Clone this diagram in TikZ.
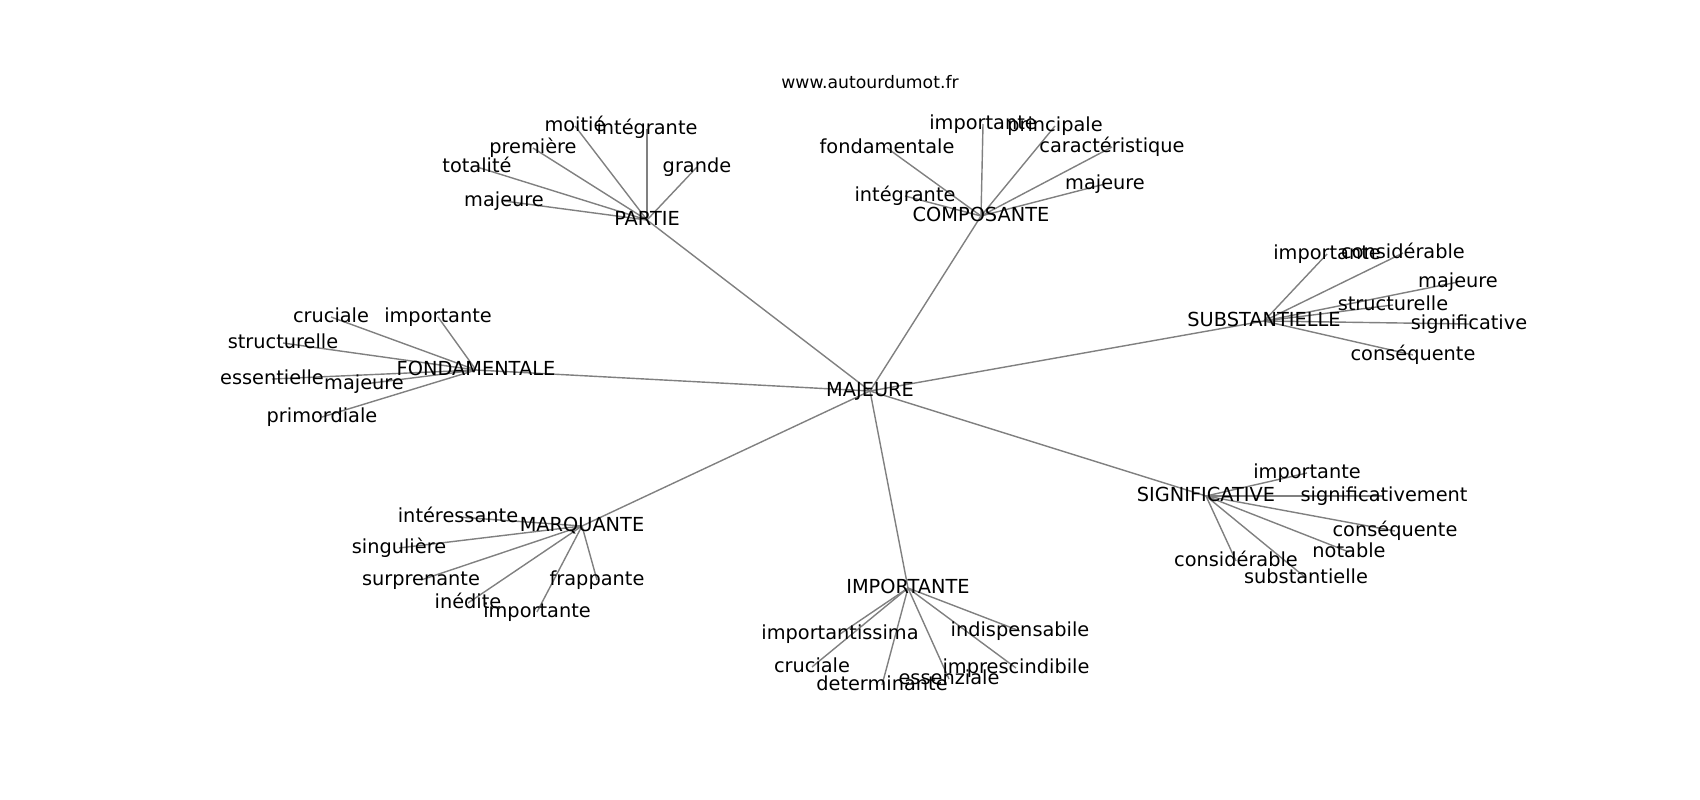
\documentclass[tikz,border=0pt]{standalone}
\usepackage{fontspec}
\setmainfont{DejaVu Sans}
\usetikzlibrary{backgrounds}

\begin{document}
\begin{tikzpicture}[x=0.01cm, y=-0.01cm,
    word/.style={inner sep=0pt, text height=4.2pt, text depth=1.1pt, font=\fontsize{5.5}{6}\selectfont},
    site/.style={inner sep=0pt, text height=3.7pt, text depth=1pt, font=\fontsize{4.9}{6}\selectfont},
    link/.style={draw=gray, line width=0.4pt}]
    \useasboundingbox (0,0) rectangle (1700,800);

    \node[site] (web) at (870,84) {www.autourdumot.fr};

    % centre et mots lies
    \node[word] (majeure) at (870,391) {MAJEURE};
    \node[word] (partie) at (647,220) {PARTIE};
    \node[word] (composante) at (981,216) {COMPOSANTE};
    \node[word] (substantielle) at (1264,321) {SUBSTANTIELLE};
    \node[word] (fondamentale) at (476,370) {FONDAMENTALE};
    \node[word] (marquante) at (582,526) {MARQUANTE};
    \node[word] (importante) at (908,588) {IMPORTANTE};
    \node[word] (significative) at (1206,496) {SIGNIFICATIVE};

    % PARTIE
    \node[word] (pa-moitie) at (575,126) {moitié};
    \node[word] (pa-integrante) at (647,129) {intégrante};
    \node[word] (pa-premiere) at (533,148) {première};
    \node[word] (pa-totalite) at (477,167) {totalité};
    \node[word] (pa-grande) at (697,167) {grande};
    \node[word] (pa-majeure) at (504,201) {majeure};

    % COMPOSANTE
    \node[word] (co-importante) at (983,124) {importante};
    \node[word] (co-principale) at (1055,126) {principale};
    \node[word] (co-fondamentale) at (887,148) {fondamentale};
    \node[word] (co-caracteristique) at (1112,147) {caractéristique};
    \node[word] (co-integrante) at (905,196) {intégrante};
    \node[word] (co-majeure) at (1105,184) {majeure};

    % SUBSTANTIELLE
    \node[word] (su-importante) at (1327,254) {importante};
    \node[word] (su-considerable) at (1403,253) {considérable};
    \node[word] (su-majeure) at (1458,282) {majeure};
    \node[word] (su-structurelle) at (1393,305) {structurelle};
    \node[word] (su-significative) at (1469,324) {significative};
    \node[word] (su-consequente) at (1413,355) {conséquente};

    % FONDAMENTALE
    \node[word] (fo-cruciale) at (331,317) {cruciale};
    \node[word] (fo-importante) at (438,317) {importante};
    \node[word] (fo-structurelle) at (283,343) {structurelle};
    \node[word] (fo-essentielle) at (272,379) {essentielle};
    \node[word] (fo-majeure) at (364,384) {majeure};
    \node[word] (fo-primordiale) at (322,417) {primordiale};

    % MARQUANTE
    \node[word] (ma-interessante) at (458,517) {intéressante};
    \node[word] (ma-singuliere) at (399,548) {singulière};
    \node[word] (ma-surprenante) at (421,580) {surprenante};
    \node[word] (ma-frappante) at (597,580) {frappante};
    \node[word] (ma-inedite) at (468,603) {inédite};
    \node[word] (ma-importante) at (537,612) {importante};

    % IMPORTANTE
    \node[word] (im-importantissima) at (840,634) {importantissima};
    \node[word] (im-indispensabile) at (1020,631) {indispensabile};
    \node[word] (im-cruciale) at (812,667) {cruciale};
    \node[word] (im-imprescindibile) at (1016,668) {imprescindibile};
    \node[word] (im-determinante) at (882,685) {determinante};
    \node[word] (im-essenziale) at (949,679) {essenziale};

    % SIGNIFICATIVE
    \node[word] (si-importante) at (1307,473) {importante};
    \node[word] (si-significativement) at (1384,496) {significativement};
    \node[word] (si-consequente) at (1395,531) {conséquente};
    \node[word] (si-notable) at (1349,552) {notable};
    \node[word] (si-considerable) at (1236,561) {considérable};
    \node[word] (si-substantielle) at (1306,578) {substantielle};

    \begin{scope}[on background layer]
    \draw[link] (majeure.center) -- (partie.center);
    \draw[link] (majeure.center) -- (composante.center);
    \draw[link] (majeure.center) -- (substantielle.center);
    \draw[link] (majeure.center) -- (fondamentale.center);
    \draw[link] (majeure.center) -- (marquante.center);
    \draw[link] (majeure.center) -- (importante.center);
    \draw[link] (majeure.center) -- (significative.center);

    \draw[link] (partie.center) -- (pa-moitie.center);
    \draw[link] (partie.center) -- (pa-integrante.center);
    \draw[link] (partie.center) -- (pa-premiere.center);
    \draw[link] (partie.center) -- (pa-totalite.center);
    \draw[link] (partie.center) -- (pa-grande.center);
    \draw[link] (partie.center) -- (pa-majeure.center);

    \draw[link] (composante.center) -- (co-importante.center);
    \draw[link] (composante.center) -- (co-principale.center);
    \draw[link] (composante.center) -- (co-fondamentale.center);
    \draw[link] (composante.center) -- (co-caracteristique.center);
    \draw[link] (composante.center) -- (co-integrante.center);
    \draw[link] (composante.center) -- (co-majeure.center);

    \draw[link] (substantielle.center) -- (su-importante.center);
    \draw[link] (substantielle.center) -- (su-considerable.center);
    \draw[link] (substantielle.center) -- (su-majeure.center);
    \draw[link] (substantielle.center) -- (su-structurelle.center);
    \draw[link] (substantielle.center) -- (su-significative.center);
    \draw[link] (substantielle.center) -- (su-consequente.center);

    \draw[link] (fondamentale.center) -- (fo-cruciale.center);
    \draw[link] (fondamentale.center) -- (fo-importante.center);
    \draw[link] (fondamentale.center) -- (fo-structurelle.center);
    \draw[link] (fondamentale.center) -- (fo-essentielle.center);
    \draw[link] (fondamentale.center) -- (fo-majeure.center);
    \draw[link] (fondamentale.center) -- (fo-primordiale.center);

    \draw[link] (marquante.center) -- (ma-interessante.center);
    \draw[link] (marquante.center) -- (ma-singuliere.center);
    \draw[link] (marquante.center) -- (ma-surprenante.center);
    \draw[link] (marquante.center) -- (ma-frappante.center);
    \draw[link] (marquante.center) -- (ma-inedite.center);
    \draw[link] (marquante.center) -- (ma-importante.center);

    \draw[link] (importante.center) -- (im-importantissima.center);
    \draw[link] (importante.center) -- (im-indispensabile.center);
    \draw[link] (importante.center) -- (im-cruciale.center);
    \draw[link] (importante.center) -- (im-imprescindibile.center);
    \draw[link] (importante.center) -- (im-determinante.center);
    \draw[link] (importante.center) -- (im-essenziale.center);

    \draw[link] (significative.center) -- (si-importante.center);
    \draw[link] (significative.center) -- (si-significativement.center);
    \draw[link] (significative.center) -- (si-consequente.center);
    \draw[link] (significative.center) -- (si-notable.center);
    \draw[link] (significative.center) -- (si-considerable.center);
    \draw[link] (significative.center) -- (si-substantielle.center);
    \end{scope}
\end{tikzpicture}
\end{document}
